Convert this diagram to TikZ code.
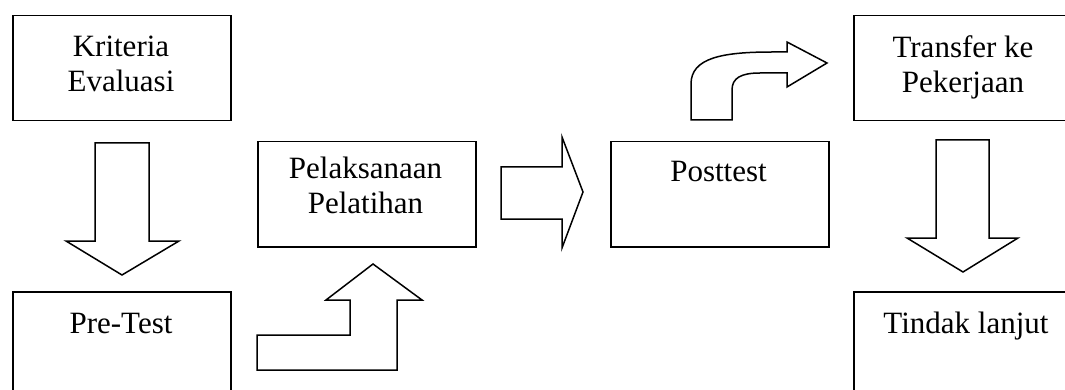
\documentclass[tikz,border=0pt]{standalone}
\usepackage{fontspec}
\setmainfont{Liberation Serif}
\begin{document}
\begin{tikzpicture}[x=1pt,y=-1pt,
  box/.style={draw=black,line width=1.5pt,fill=white,minimum width=218pt,minimum height=105pt,anchor=north west,inner sep=0pt},
  tall/.style={box,minimum height=115pt},
  lbl/.style={font=\fontsize{31}{35}\selectfont,align=center,inner sep=0pt,anchor=base},
  blockarrow/.style={draw=black,line width=1.5pt,fill=white,line join=miter}]
\useasboundingbox (0,0) rectangle (1065,390);
\clip (0,0) rectangle (1065,390);
% boxes
\node[box] (krit) at (12,15) {};
\node[tall] (pre) at (12,291) {};
\node[box] (pel) at (257,141) {};
\node[box] (post) at (610,141) {};
\node[box,minimum width=220pt] (trans) at (853,15) {};
\node[tall,minimum width=220pt] (tindak) at (853,291) {};
% labels (base = baseline of last line)
\node[lbl] (tkrit) at (121,92) {Kriteria\\Evaluasi};
\node[lbl] (tpre) at (121,333) {Pre-Test};
\node[lbl] (tpel) at (365.5,213) {Pelaksanaan\\Pelatihan};
\node[lbl] (tpost) at (718.5,182) {Posttest};
\node[lbl] (ttrans) at (963,93) {Transfer ke\\Pekerjaan};
\node[lbl] (ttindak) at (966,333) {Tindak lanjut};
% block arrows
\draw[blockarrow] (95,143) -- (149,143) -- (149,241) -- (179,241) -- (122,275) -- (66,241) -- (95,241) -- cycle;
\draw[blockarrow] (936,140) -- (989,140) -- (989,238) -- (1018,238) -- (963,272) -- (907,238) -- (936,238) -- cycle;
\draw[blockarrow] (501,167) -- (562,167) -- (562,137) -- (583,192) -- (562,248) -- (562,219) -- (501,219) -- cycle;
\draw[blockarrow] (257,335) -- (350,335) -- (350,300) -- (326,300) -- (373,264) -- (422,300) -- (397,300) -- (397,370) -- (257,370) -- cycle;
\draw[blockarrow] (691,120) -- (691,84) .. controls (691,58) and (722,52) .. (772,52) -- (787,52) -- (787,42) -- (827,63) -- (787,87) -- (787,73) -- (760,73) .. controls (741,73) and (732,78) .. (732,90) -- (732,120) -- cycle;
\end{tikzpicture}
\end{document}
